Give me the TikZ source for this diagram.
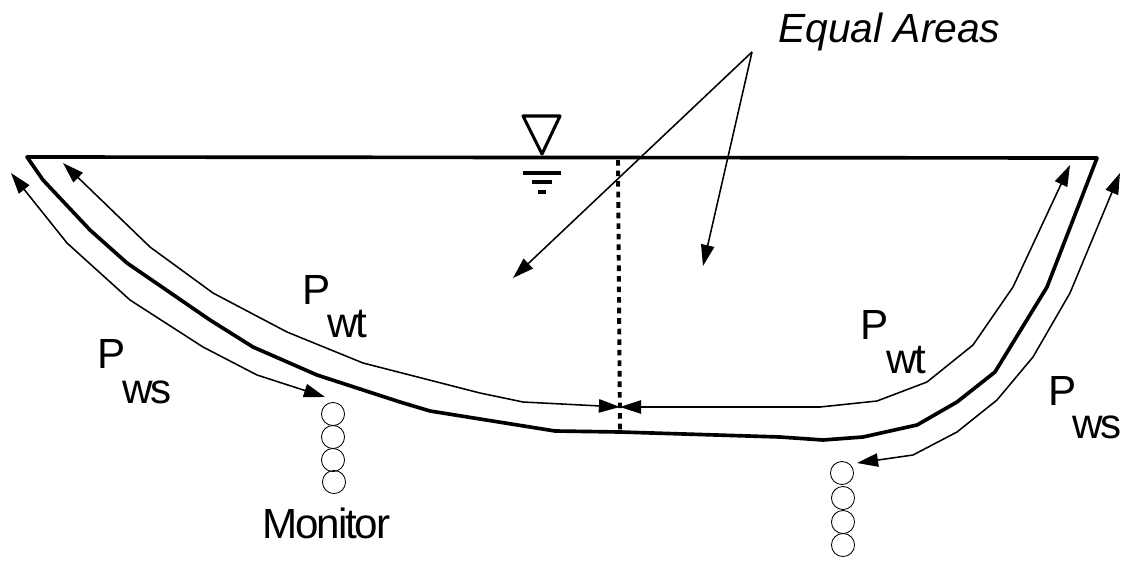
\documentclass[tikz,border=0pt]{standalone}
\usepackage{fontspec}
\setmainfont{Liberation Sans}
\newfontfamily\tightfont[LetterSpace=-5]{Liberation Sans}
\usetikzlibrary{arrows.meta}

\begin{document}
\begin{tikzpicture}[x=0.025cm,y=-0.025cm,
  lbl/.style={font=\fontsize{30}{30}\selectfont,inner sep=0pt,anchor=base west},
  sub/.style={lbl,font=\fontsize{30}{30}\tightfont},
  thinline/.style={line width=1.1pt,line join=round},
  tip/.style={thinline,-{Triangle[length=15pt,width=9.5pt]}},
  tips/.style={thinline,{Triangle[length=15pt,width=9.5pt]}-{Triangle[length=15pt,width=9.5pt]}},
  bed/.style={line width=2.6pt,line join=round},
  gauge/.style={line width=2.2pt,line join=round},
  ball/.style={draw,circle,line width=0.6pt,minimum size=16.4pt,inner sep=0pt}]
\useasboundingbox (0,0) rectangle (1121,561);
\draw[bed] (27,157) -- (1097,158) -- (1047,287) -- (995,372) -- (957,402) -- (917,425) -- (863,437) -- (823,440) -- (780,437) -- (620,432) -- (555,431) -- (430,411) -- (400,402) -- (317,375) -- (253,347) -- (210,320) -- (127,263) -- (90,230) -- (43,180) -- cycle;
\draw[tips] (620,407) -- (523,402) -- (480,393) -- (363,363) -- (287,332) -- (213,293) -- (150,247) -- (63,163);
\draw[tips] (620,407) -- (820,407) -- (877,401) -- (927,382) -- (973,345) -- (1013,287) -- (1070,165);
\draw[tips] (11,173) -- (67,243) -- (130,300) -- (203,347) -- (257,375) -- (325,397);
\draw[tips] (857,463) -- (913,455) -- (957,432) -- (997,400) -- (1033,357) -- (1070,293) -- (1120,173);
\draw[line width=2.8pt,dash pattern=on 4pt off 3.5pt] (618,160) -- (620,432);
\draw[gauge] (523,116) -- (560,116) -- (542,154) -- cycle;
\draw[gauge] (523,173) -- (561,173);
\draw[gauge] (532,182) -- (552,182);
\draw[gauge] (538,192) -- (546,192);
\coordinate (apex) at (752,52);
\draw[tip] (apex) -- (513,278);
\draw[tip] (apex) -- (703,266);
\node[lbl,font=\fontsize{29}{29}\selectfont\itshape] (areas) at (778,42) {Equal Areas};
\node[lbl] (pwtl) at (302,304) {P};
\node[sub] (wtl) at (327,337) {wt};
\node[lbl] (pwsl) at (97,368) {P};
\node[sub] (wsl) at (122,403) {ws};
\node[lbl] (pwtr) at (860,339) {P};
\node[sub] (wtr) at (886,373) {wt};
\node[lbl] (pwsr) at (1048,405) {P};
\node[sub] (wsr) at (1072,438) {ws};
\node[sub] (monitor) at (262,538) {Monitor};
\node[ball] (l1) at (333,414) {};
\node[ball] (l2) at (333,437) {};
\node[ball] (l3) at (333,460) {};
\node[ball] (l4) at (334,482) {};
\node[ball] (r1) at (842,473) {};
\node[ball] (r2) at (843,498) {};
\node[ball] (r3) at (843,522) {};
\node[ball] (r4) at (843,545) {};
\end{tikzpicture}
\end{document}
